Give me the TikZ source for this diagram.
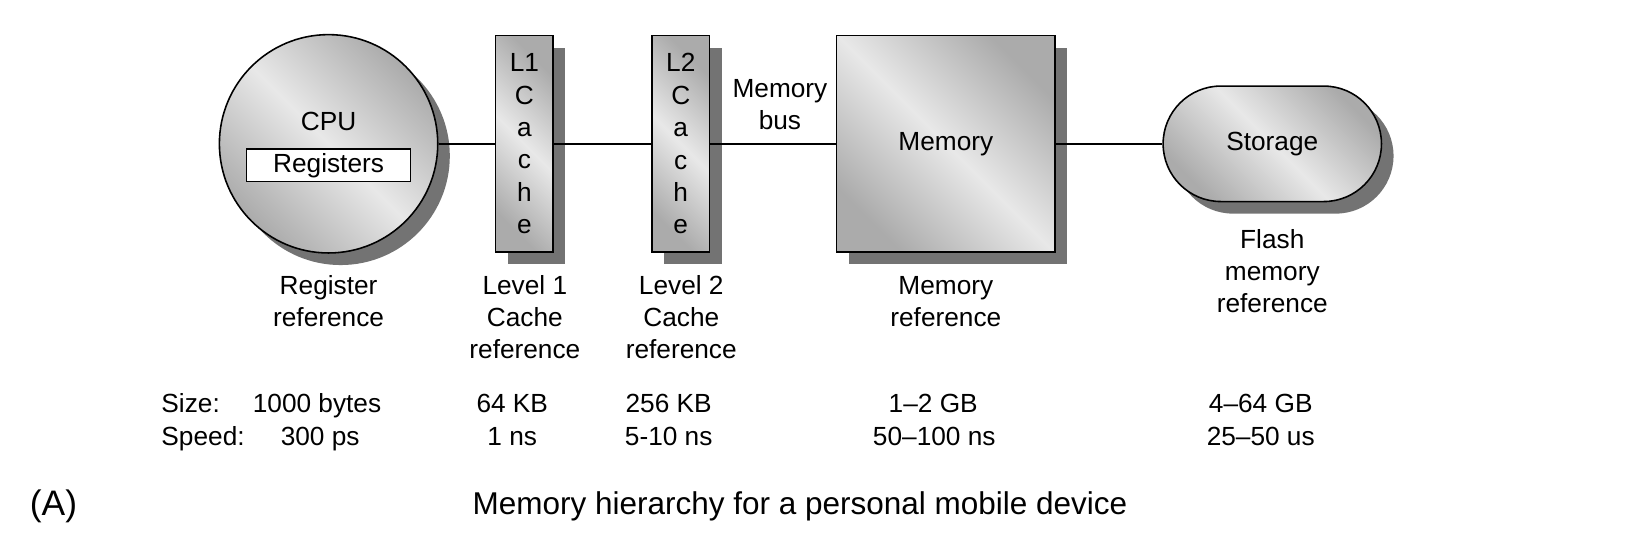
\documentclass[tikz,border=0pt]{standalone}
\usepackage{fontspec}
\setmainfont{Liberation Sans}
\usetikzlibrary{shadows}
\begin{document}
\begin{tikzpicture}[x=0.4pt,y=-0.4pt,
    part/.style={draw, line width=0.6pt, inner sep=0pt,
      top color=black!33, bottom color=black!33, middle color=black!9, shading angle=-45,
      drop shadow={shadow xshift=4.6pt, shadow yshift=-4.6pt, fill=black!55, opacity=1}},
    txt/.style={align=center, font=\fontsize{10}{12.2}\selectfont},
    row/.style={txt, anchor=base},
    bus/.style={line width=0.8pt}]
  \useasboundingbox (0,0) rectangle (1568,530);
  % units and connectors
  \node[part, circle, minimum size=83.2pt] (cpu) at (313,137) {};
  \node[txt] (cpulabel) at (313,116) {CPU};
  \node[draw, fill=white, line width=0.6pt, minimum width=62.4pt, minimum height=12.4pt, inner sep=0pt, txt] (reg) at (313,157.5) {Registers};
  \node[part, minimum width=22pt, minimum height=82.4pt, txt, font=\fontsize{10}{12.35}\selectfont] (l1) at (499.5,137) {L1\\C\\a\\c\\h\\e};
  \node[part, minimum width=22pt, minimum height=82.4pt, txt, font=\fontsize{10}{12.35}\selectfont] (l2) at (648.5,137) {L2\\C\\a\\c\\h\\e};
  \node[part, minimum width=83.2pt, minimum height=82.4pt, txt] (mem) at (901,137) {Memory};
  \node[part, minimum width=83.2pt, minimum height=44pt, rounded corners=22pt, txt] (stor) at (1212,137) {Storage};
  \node[txt] (busname) at (743,100) {Memory\\bus};
  \foreach \source/\dest in {cpu/l1, l1/l2, l2/mem, mem/stor}
    \path[bus] (\source) edge (\dest);
  % references
  \node[txt] (regref) at (313,287) {Register\\reference};
  \node[txt] (l1ref) at (500,302) {Level 1\\Cache\\reference};
  \node[txt] (l2ref) at (649,302) {Level 2\\Cache\\reference};
  \node[txt] (memref) at (901,287) {Memory\\reference};
  \node[txt] (storref) at (1212,258) {Flash\\memory\\reference};
  % size and speed
  \node[row, anchor=base west] (sizehead) at (145,393) {Size:};
  \node[row, anchor=base west] (speedhead) at (145,424) {Speed:};
  \node[row] (regsize) at (302,393) {1000 bytes};
  \node[row] (regspeed) at (305,424) {300 ps};
  \node[row] (l1size) at (488,393) {64 KB};
  \node[row] (l1speed) at (488,424) {1 ns};
  \node[row] (l2size) at (637,393) {256 KB};
  \node[row] (l2speed) at (637,424) {5-10 ns};
  \node[row] (memsize) at (889,393) {1–2 GB};
  \node[row] (memspeed) at (890,424) {50–100 ns};
  \node[row] (storsize) at (1201,393) {4–64 GB};
  \node[row] (storspeed) at (1201,424) {25–50 us};
  % caption
  \node[font=\fontsize{13.5}{16}\selectfont] (tag) at (51,482) {(A)};
  \node[font=\fontsize{12}{14}\selectfont] (caption) at (762,482) {Memory hierarchy for a personal mobile device};
\end{tikzpicture}
\end{document}
